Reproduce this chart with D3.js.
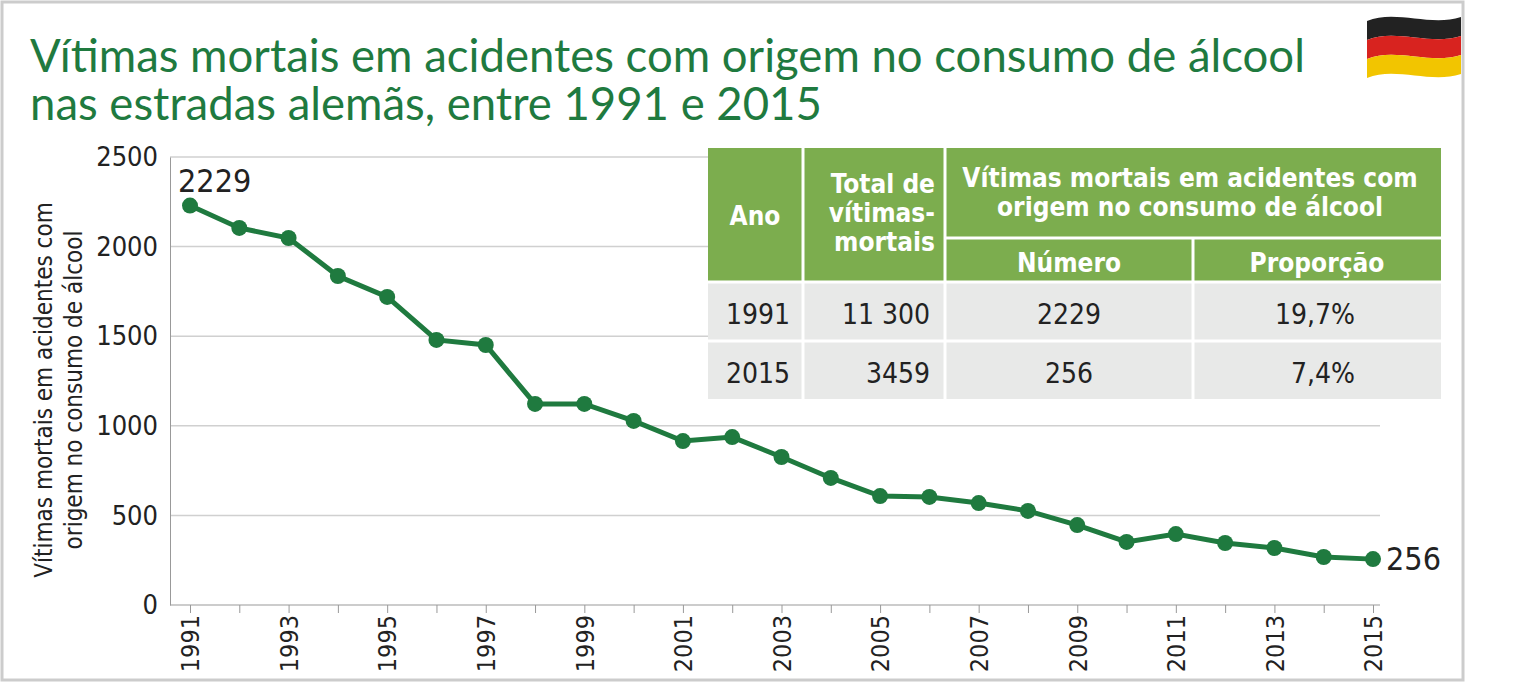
<!DOCTYPE html>
<html><head><meta charset="utf-8">
<script src="https://cdn.jsdelivr.net/npm/d3@7"></script>
<style>body{margin:0;background:#fff}</style>
</head><body>
<div id="chart"></div>
<script>
const years = d3.range(1991, 2016)
const deaths = [2229, 2104, 2048, 1836, 1719, 1479, 1451, 1122, 1122, 1027, 915, 937, 826, 709, 608, 603, 569, 525, 446, 352, 396, 346, 318, 268, 256]
const yTicks = [0, 500, 1000, 1500, 2000, 2500]
const tableRows = [['1991', '11 300', '2229', '19,7%'], ['2015', '3459', '256', '7,4%']]

const green = '#1f7a3f', cond = "'DejaVu Sans Condensed','Liberation Sans Narrow',sans-serif"
const svg = d3.select('#chart').append('svg').attr('width', 1517).attr('height', 685)

svg.append('rect').attr('x', 2).attr('y', 2).attr('width', 1461).attr('height', 678)
  .attr('fill', 'none').attr('stroke', '#ccc').attr('stroke-width', 3)

// title
svg.append('text').attr('x', 30).attr('y', 72).attr('fill', green)
  .style('font-family', 'Lato').style('font-size', '45.5px').text('Vítimas mortais em acidentes com origem no consumo de álcool')
svg.append('text').attr('x', 30).attr('y', 120).attr('fill', green)
  .style('font-family', 'Lato').style('font-size', '45.5px').text('nas estradas alemãs, entre 1991 e 2015')

// flag
const flag = svg.append('g')
const stripes = ['#222', '#d8231f', '#f2c500']
stripes.forEach((c, i) => {
  const y0 = 17 + i * 19
  flag.append('path').attr('fill', c)
    .attr('d', `M1367,${y0 + 4} C1395,${y0 - 8} 1430,${y0 + 10} 1461,${y0} L1461,${y0 + 19} C1430,${y0 + 29} 1395,${y0 + 11} 1367,${y0 + 23} Z`)
})

const x = d3.scaleLinear().domain([1991, 2015]).range([190, 1373])
const y = d3.scaleLinear().domain([0, 2500]).range([605, 157])

svg.append('g').selectAll('line').data(yTicks.slice(1)).join('line')
  .attr('x1', 170).attr('x2', 1380).attr('y1', d => y(d)).attr('y2', d => y(d))
  .attr('stroke', '#d0d0d0').attr('stroke-width', 1.5)

const yAxis = svg.append('g').attr('transform', 'translate(170,0)')
  .call(d3.axisLeft(y).tickValues(yTicks).tickFormat(d3.format('d')).tickSize(0).tickPadding(12))
yAxis.select('.domain').attr('stroke', '#999')
yAxis.selectAll('text').style('font-family', cond).style('font-size', '27px').attr('fill', '#222')

const xAxis = svg.append('g').attr('transform', 'translate(0,605)')
  .call(d3.axisBottom(x).tickValues(years).tickFormat(d => d % 2 ? d : '').tickSize(8))
xAxis.select('.domain').attr('stroke', '#999').attr('d', 'M170,0H1380')
xAxis.selectAll('line').attr('stroke', '#999')
xAxis.selectAll('text').style('font-family', cond).style('font-size', '25px').attr('fill', '#222')
  .attr('transform', 'rotate(-90)').attr('text-anchor', 'end').attr('dx', '-10')
  .attr('x', 0).attr('y', 0).attr('dy', '0.35em')

svg.append('text').attr('transform', 'translate(52,390) rotate(-90)').attr('text-anchor', 'middle')
  .style('font-family', cond).style('font-size', '24px').attr('fill', '#222')
  .selectAll('tspan').data(['Vítimas mortais em acidentes com', 'origem no consumo de álcool']).join('tspan')
  .attr('x', 0).attr('dy', (d, i) => i ? 30 : 0).text(d => d)

const line = d3.line().x((d, i) => x(years[i])).y(d => y(d))
svg.append('path').attr('d', line(deaths)).attr('fill', 'none').attr('stroke', green).attr('stroke-width', 5)
svg.append('g').selectAll('circle').data(deaths).join('circle')
  .attr('cx', (d, i) => x(years[i])).attr('cy', d => y(d)).attr('r', 8).attr('fill', green)

svg.append('text').attr('x', x(1991) - 12).attr('y', y(deaths[0]) - 14)
  .style('font-family', cond).style('font-size', '32px').attr('fill', '#222').text(deaths[0])
svg.append('text').attr('x', x(2015) + 13).attr('y', y(deaths[24]) + 11)
  .style('font-family', cond).style('font-size', '32px').attr('fill', '#222').text(deaths[24])

// table
const cols = [708, 803, 945, 1193, 1441]
const hg = '#7cad4e', tb = svg.append('g')
tb.append('rect').attr('x', 708).attr('y', 148).attr('width', 733).attr('height', 134).attr('fill', hg)
tableRows.forEach((r, i) => tb.append('rect').attr('x', 708).attr('y', 282 + i * 59).attr('width', 733).attr('height', 58).attr('fill', '#e8e9e8'))
cols.slice(1, 4).forEach((c, i) => tb.append('line').attr('x1', c).attr('x2', c).attr('y1', i === 2 ? 238 : 148).attr('y2', 400).attr('stroke', '#fff').attr('stroke-width', 3))
tb.append('line').attr('x1', 945).attr('x2', 1441).attr('y1', 238).attr('y2', 238).attr('stroke', '#fff').attr('stroke-width', 3)
tb.append('line').attr('x1', 708).attr('x2', 1441).attr('y1', 282).attr('y2', 282).attr('stroke', '#fff').attr('stroke-width', 3)
tb.append('line').attr('x1', 708).attr('x2', 1441).attr('y1', 341).attr('y2', 341).attr('stroke', '#fff').attr('stroke-width', 3)

const ht = (tx, y0, anchor, lines) => tb.append('text').attr('x', tx).attr('y', y0).attr('text-anchor', anchor)
  .style('font-family', cond).style('font-weight', 'bold').style('font-size', '26px').attr('fill', '#fff')
  .selectAll('tspan').data(lines).join('tspan').attr('x', tx).attr('dy', (d, i) => i ? 29 : 0).text(d => d)
ht(755, 225, 'middle', ['Ano'])
ht(935, 193, 'end', ['Total de', 'vítimas-', 'mortais'])
ht(1190, 187, 'middle', ['Vítimas mortais em acidentes com', 'origem no consumo de álcool'])
ht(1069, 272, 'middle', ['Número'])
ht(1317, 272, 'middle', ['Proporção'])

tableRows.forEach((r, i) => {
  const yy = 324 + i * 59
  const cells = [[790, 'end'], [930, 'end'], [1069, 'middle'], [1355, 'end']]
  r.forEach((v, j) => tb.append('text').attr('x', cells[j][0]).attr('y', yy).attr('text-anchor', cells[j][1])
    .style('font-family', cond).style('font-size', '28px').attr('fill', '#222').text(v))
})
</script>
</body></html>
